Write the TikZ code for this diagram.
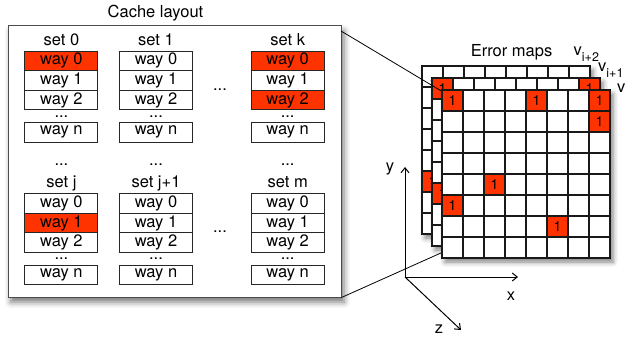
\documentclass[tikz,border=0pt]{standalone}
\usepackage{fontspec}
\setmainfont{TeX Gyre Heros}
\usetikzlibrary{shadows.blur,arrows.meta}
\definecolor{hitred}{RGB}{255,51,0}

% one error map: #1,#2 top-left corner, #3 node name, #4 list of col/row of set bits
\newcommand\errmap[4]{%
  \node[mapframe] (#3) at ({#1+84},{#2+84}) {};
  \foreach \c/\r in {#4}{%
    \fill[hitred] ({#1+21*\c},{#2+21*\r}) rectangle ++(21,21);
    \node[bitlabel] at ({#1+21*\c+10.5},{#2+21*\r+10.5}) {1};
  }
  \foreach \k in {0,...,8}{%
    \draw[gridline] ({#1+21*\k},#2) -- ({#1+21*\k},{#2+168});
    \draw[gridline] (#1,{#2+21*\k}) -- ({#1+168},{#2+21*\k});
  }
}

\begin{document}
\begin{tikzpicture}[x=1pt,y=-1pt,
  every node/.style={font=\fontsize{16.5}{18}\selectfont},
  cachebox/.style={draw=black!70,fill=white,line width=1pt,inner sep=0pt,
    minimum width=333pt,minimum height=271pt,
    blur shadow={shadow xshift=3pt,shadow yshift=-5pt,shadow blur radius=6pt,shadow opacity=55}},
  waycell/.style={draw=black!85,fill=white,line width=1pt,inner sep=0pt,
    minimum width=73pt,minimum height=19.6pt},
  hit/.style={fill=hitred},
  lbl/.style={anchor=base,inner sep=0pt},
  mapframe/.style={draw=black,fill=white,line width=1.2pt,inner sep=0pt,
    minimum width=168pt,minimum height=168pt,
    blur shadow={shadow xshift=3pt,shadow yshift=-4pt,shadow blur radius=5pt,shadow opacity=50}},
  gridline/.style={draw=black!90,line width=1.2pt},
  bitlabel/.style={font=\fontsize{14}{15}\selectfont,inner sep=0pt},
  link/.style={draw=black,line width=0.8pt},
  axis/.style={draw=black,line width=1pt,-{Straight Barb[length=5pt,width=8pt]}},
]
\useasboundingbox (0,0) rectangle (626,339);

% ---------- cache layout ----------
\node[lbl] (cachetitle) at (155.5,17.5) {Cache layout};
\node[cachebox] (cache) at (174.5,161.5) {};

% set names and ellipses of each column
\foreach \cx/\nm/\tag/\lo in {61.4/0/a/j, 156/1/b/j+1, 287.7/k/c/m}{
  \node[lbl] (up\tag) at (\cx,45.5) {set \nm};
  \node[lbl] (upd\tag) at (\cx,118) {...};
  \node[lbl] (mid\tag) at (\cx,166) {...};
  \node[lbl] (low\tag) at (\cx,188) {set \lo};
  \node[lbl] (lowd\tag) at (\cx,259) {...};
}
% upper block cells
\node[waycell,hit] (a0) at (61.4,60.9) {way 0};
\node[waycell]     (a1) at (61.4,80.5) {way 1};
\node[waycell]     (a2) at (61.4,100.2) {way 2};
\node[waycell]     (an) at (61.4,132.3) {way n};
\node[waycell]     (b0) at (156,60.9) {way 0};
\node[waycell]     (b1) at (156,80.5) {way 1};
\node[waycell]     (b2) at (156,100.2) {way 2};
\node[waycell]     (bn) at (156,132.3) {way n};
\node[waycell,hit] (c0) at (287.7,60.9) {way 0};
\node[waycell]     (c1) at (287.7,80.5) {way 1};
\node[waycell,hit] (c2) at (287.7,100.2) {way 2};
\node[waycell]     (cn) at (287.7,132.3) {way n};
\node[lbl] (updots) at (220,91) {...};
% lower block cells
\node[waycell]     (d0) at (61.4,203.5) {way 0};
\node[waycell,hit] (d1) at (61.4,223) {way 1};
\node[waycell]     (d2) at (61.4,242.7) {way 2};
\node[waycell]     (dn) at (61.4,275) {way n};
\node[waycell]     (e0) at (156,203.5) {way 0};
\node[waycell]     (e1) at (156,223) {way 1};
\node[waycell]     (e2) at (156,242.7) {way 2};
\node[waycell]     (en) at (156,275) {way n};
\node[waycell]     (f0) at (287.7,203.5) {way 0};
\node[waycell]     (f1) at (287.7,223) {way 1};
\node[waycell]     (f2) at (287.7,242.7) {way 2};
\node[waycell]     (fn) at (287.7,275) {way n};
\node[lbl] (lowdots) at (220,233) {...};

% ---------- axes ----------
\coordinate (O) at (405,277);
\coordinate (ytip) at (405,167);
\coordinate (xtip) at (518,277);
\coordinate (ztip) at (461,330);
\draw[axis] (O) -- (ytip);
\draw[axis] (O) -- (xtip);
\draw[axis] (O) -- (ztip);
\node (ylab) at (390,169) {y};
\node (xlab) at (511,296) {x};
\node (zlab) at (439,329.5) {z};

% ---------- error maps ----------
\node[lbl] (maptitle) at (511.5,56.5) {Error maps};
\errmap{422}{66}{back}{0/5}
\errmap{432}{78}{mid}{0/0,7/0,0/5}
% projection lines from the cache to the front map
\coordinate (cachetop) at (341,31);
\coordinate (maptop) at (443,92);
\coordinate (mapbot) at (442,252.5);
\draw[link] (cachetop) -- (maptop);
\draw[link] (cache.south east) -- (mapbot);
\errmap{442}{90}{front}{0/0,4/0,7/0,7/1,2/4,0/5,5/6}

\node[anchor=base west,inner sep=0pt] (vtwo) at (573.5,56)
  {v\raisebox{-6pt}{\fontsize{12.5}{13}\selectfont i+2}};
\node[anchor=base west,inner sep=0pt] (vone) at (598,72)
  {v\raisebox{-6pt}{\fontsize{12.5}{13}\selectfont i+1}};
\node[anchor=base west,inner sep=0pt] (vzero) at (617,93)
  {v\raisebox{-6pt}{\fontsize{12.5}{13}\selectfont i}};
\end{tikzpicture}
\end{document}
